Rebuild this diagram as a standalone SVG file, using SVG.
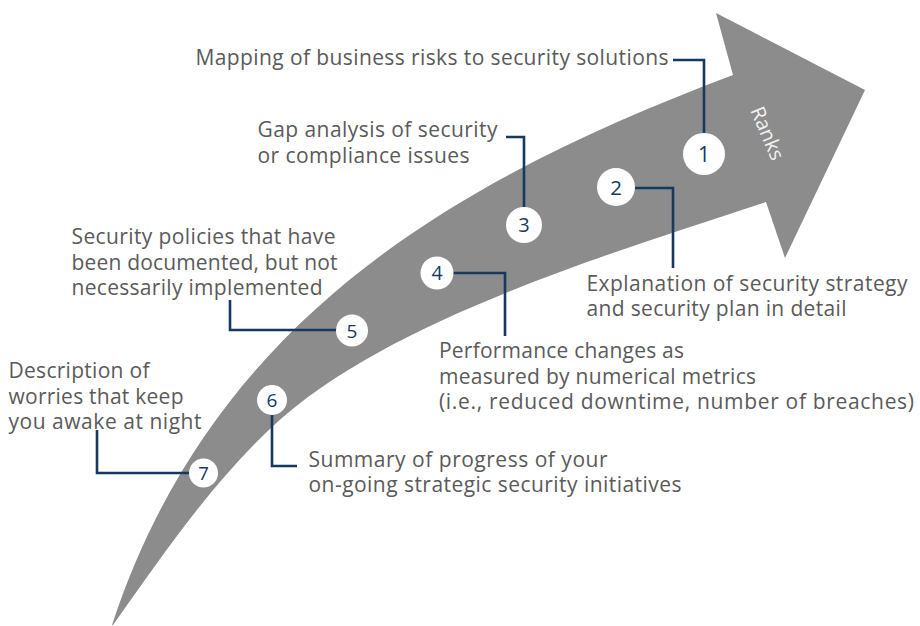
<svg xmlns="http://www.w3.org/2000/svg" width="920" height="626" viewBox="0 0 920 626">
  <style>
    .lbl { font-family: "Open Sans", "Liberation Sans", sans-serif; font-size: 21px; fill: #5a5a5a; }
    .num { font-family: "Open Sans", "Liberation Sans", sans-serif; fill: #15395f; text-anchor: middle; }
    .dot { fill: #ffffff; }
    .link { fill: none; stroke: #15395f; stroke-width: 2.6; stroke-linejoin: miter; }
  </style>
  <rect width="920" height="626" fill="#ffffff"/>

  <!-- curved arrow -->
  <g id="arrow">
    <path fill="#8c8c8c" d="M112,625 C212,321 452,181 733,75 L716,13 L865,90 L785,258 L766,202 C595,258 382,324 272,427 C210,485 162,556 113,625 Z"/>
    <text transform="translate(761,136) rotate(67)" text-anchor="middle" font-family="'Open Sans', 'Liberation Sans', sans-serif" font-size="20" fill="#f2f2f2">Ranks</text>
  </g>

  <!-- leader lines -->
  <g id="connectors">
    <polyline class="link" points="673,60 704,60 704,133"/>
    <polyline class="link" points="635,188 673,188 673,268"/>
    <polyline class="link" points="506,137 524,137 524,207"/>
    <polyline class="link" points="453,273 505,273 505,336"/>
    <polyline class="link" points="230,300 230,330 337,330"/>
    <polyline class="link" points="272,415 272,466 297,466"/>
    <polyline class="link" points="97,430 97,473 190,473"/>
  </g>

  <g id="rank-1">
    <circle class="dot" cx="704" cy="154" r="21"/>
    <text class="num" x="704" y="161.5" font-size="21">1</text>
    <text class="lbl" x="195.5" y="65" textLength="473">Mapping of business risks to security solutions</text>
  </g>

  <g id="rank-2">
    <circle class="dot" cx="616" cy="187" r="19"/>
    <text class="num" x="616" y="194.5" font-size="20.5">2</text>
    <text class="lbl" x="586.5" y="290.5" textLength="321">Explanation of security strategy</text>
    <text class="lbl" x="586.5" y="316" textLength="260">and security plan in detail</text>
  </g>

  <g id="rank-3">
    <circle class="dot" cx="524" cy="225" r="18"/>
    <text class="num" x="524" y="232" font-size="20">3</text>
    <text class="lbl" x="257.5" y="137" textLength="240">Gap analysis of security</text>
    <text class="lbl" x="257.5" y="163" textLength="212">or compliance issues</text>
  </g>

  <g id="rank-4">
    <circle class="dot" cx="437" cy="273" r="16.5"/>
    <text class="num" x="437" y="280" font-size="19.5">4</text>
    <text class="lbl" x="439" y="358" textLength="245">Performance changes as</text>
    <text class="lbl" x="439" y="383.5" textLength="317">measured by numerical metrics</text>
    <text class="lbl" x="439" y="409" textLength="475">(i.e., reduced downtime, number of breaches)</text>
  </g>

  <g id="rank-5">
    <circle class="dot" cx="352" cy="330.5" r="16"/>
    <text class="num" x="352" y="337.5" font-size="19">5</text>
    <text class="lbl" x="71.5" y="244" textLength="264">Security policies that have</text>
    <text class="lbl" x="71.5" y="269.5" textLength="266">been documented, but not</text>
    <text class="lbl" x="71.5" y="295" textLength="251">necessarily implemented</text>
  </g>

  <g id="rank-6">
    <circle class="dot" cx="272" cy="400" r="15"/>
    <text class="num" x="272" y="407" font-size="19">6</text>
    <text class="lbl" x="308.5" y="466.5" textLength="299">Summary of progress of your</text>
    <text class="lbl" x="308.5" y="492" textLength="373">on-going strategic security initiatives</text>
  </g>

  <g id="rank-7">
    <circle class="dot" cx="203.5" cy="473" r="14.5"/>
    <text class="num" x="203.5" y="479.5" font-size="18.5">7</text>
    <text class="lbl" x="8.5" y="378" textLength="141">Description of</text>
    <text class="lbl" x="8.5" y="403.5" textLength="175">worries that keep</text>
    <text class="lbl" x="8.5" y="429" textLength="193">you awake at night</text>
  </g>
</svg>
